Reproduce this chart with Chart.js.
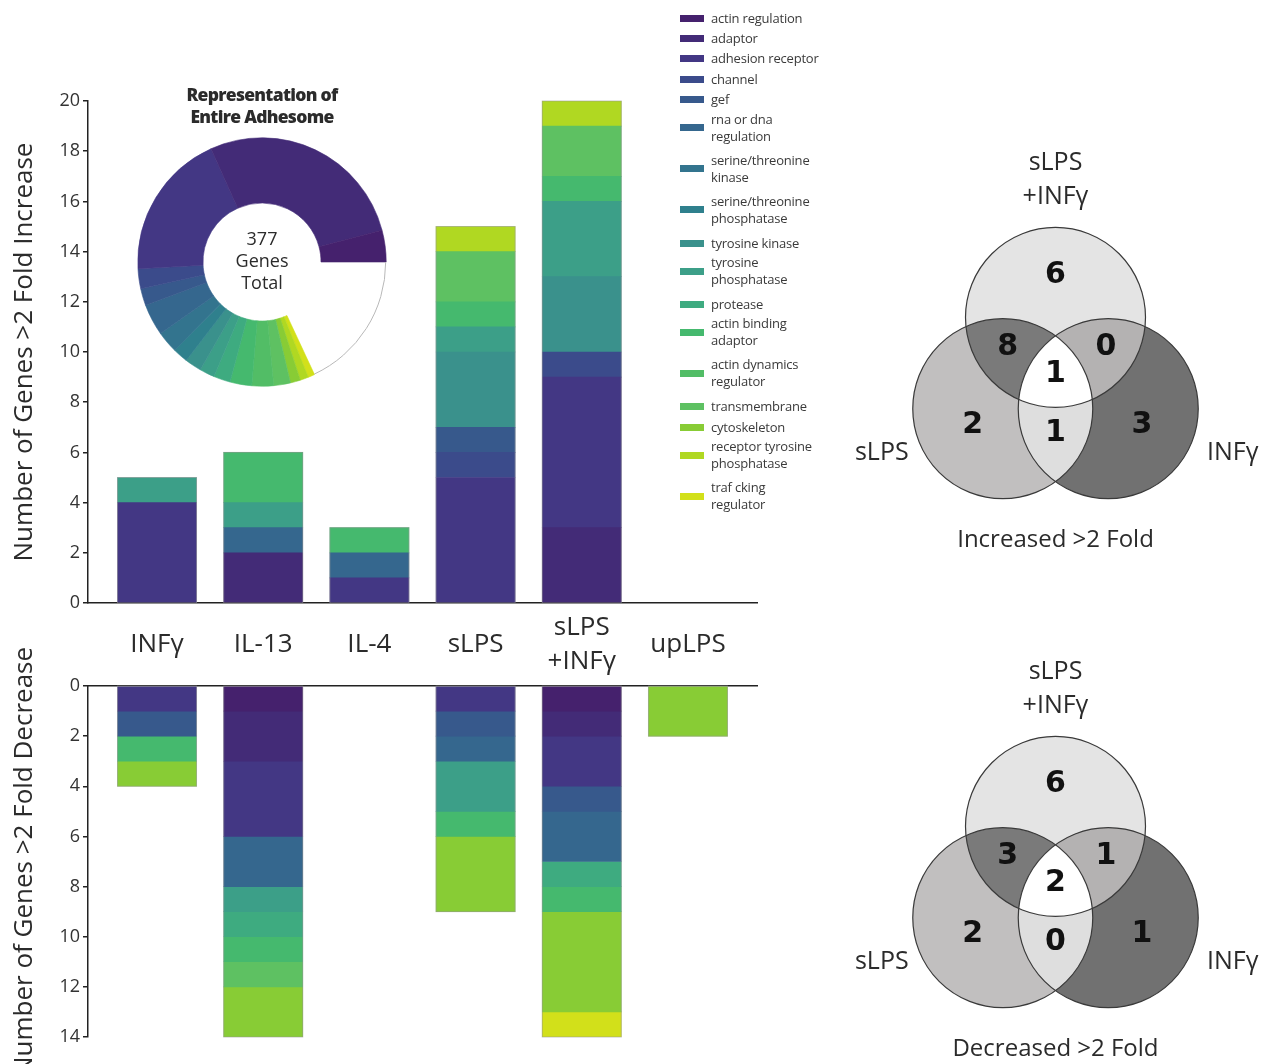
<!DOCTYPE html>
<html>
<head>
<meta charset="utf-8">
<script src="https://cdn.jsdelivr.net/npm/chart.js@4.4.1/dist/chart.umd.min.js"></script>
<style>
  html, body { margin: 0; padding: 0; background: #fff; overflow: hidden; }
  body { width: 1271px; height: 1064px; position: relative; font-family: 'Open Sans', sans-serif; }
  canvas { position: absolute; }
  #legend { position: absolute; left: 680px; top: 8px; color: #3a3a3a; font-size: 13px; }
  .item { display: flex; align-items: center; }
  .swatch { width: 24px; height: 7px; margin-right: 7px; flex: none; }
  .txt { line-height: 17px; white-space: pre; letter-spacing: -0.2px; }
</style>
</head>
<body>
<canvas id="up" width="770" height="676" style="left:0;top:0"></canvas>
<canvas id="down" width="770" height="428" style="left:0;top:636px"></canvas>
<canvas id="donut" width="264" height="312" style="left:130px;top:78px"></canvas>
<canvas id="vennUp" width="431" height="420" style="left:840px;top:140px"></canvas>
<canvas id="vennDown" width="431" height="420" style="left:840px;top:649px"></canvas>
<div id="legend"></div>
<script>
// treatments along the x axis
const conditions = ['INFγ', 'IL-13', 'IL-4', 'sLPS', 'sLPS\n+INFγ', 'upLPS'];

// adhesome functional categories (legend order, bottom of the stack first)
const categories = [
    'actin regulation', 'adaptor', 'adhesion receptor', 'channel', 'gef',
    'rna or dna\nregulation', 'serine/threonine\nkinase', 'serine/threonine\nphosphatase',
    'tyrosine kinase', 'tyrosine\nphosphatase', 'protease', 'actin binding\nadaptor',
    'actin dynamics\nregulator', 'transmembrane', 'cytoskeleton',
    'receptor tyrosine\nphosphatase', 'traf cking\nregulator'
];
const colors = [
    '#45216d', '#432b77', '#433784', '#3b4b8b', '#37598c',
    '#35678e', '#33748e', '#2f808d', '#3a918c', '#3c9f88',
    '#3eab80', '#45b96e', '#52bd66', '#5ec162', '#88cc35',
    '#b0d822', '#d2e01a'
];

// genes >2 fold increased, one row per category, columns follow conditions
const increased = [
    [0, 0, 0, 0, 0, 0],
    [0, 2, 0, 0, 3, 0],
    [4, 0, 1, 5, 6, 0],
    [0, 0, 0, 1, 1, 0],
    [0, 0, 0, 1, 0, 0],
    [0, 1, 1, 0, 0, 0],
    [0, 0, 0, 0, 0, 0],
    [0, 0, 0, 0, 0, 0],
    [0, 0, 0, 3, 3, 0],
    [1, 1, 0, 1, 3, 0],
    [0, 0, 0, 0, 0, 0],
    [0, 2, 1, 1, 1, 0],
    [0, 0, 0, 0, 0, 0],
    [0, 0, 0, 2, 2, 0],
    [0, 0, 0, 0, 0, 0],
    [0, 0, 0, 1, 1, 0],
    [0, 0, 0, 0, 0, 0]
];
// genes >2 fold decreased
const decreased = [
    [0, 1, 0, 0, 1, 0],
    [0, 2, 0, 0, 1, 0],
    [1, 3, 0, 1, 2, 0],
    [0, 0, 0, 0, 0, 0],
    [1, 0, 0, 1, 1, 0],
    [0, 2, 0, 1, 2, 0],
    [0, 0, 0, 0, 0, 0],
    [0, 0, 0, 0, 0, 0],
    [0, 0, 0, 0, 0, 0],
    [0, 1, 0, 2, 0, 0],
    [0, 1, 0, 0, 1, 0],
    [1, 1, 0, 1, 1, 0],
    [0, 0, 0, 0, 0, 0],
    [0, 1, 0, 0, 0, 0],
    [1, 2, 0, 3, 4, 2],
    [0, 0, 0, 0, 0, 0],
    [0, 0, 0, 0, 1, 0]
];

// whole adhesome, genes per category (377 total)
const adhesomeTotals = [19, 127, 88, 12, 10, 19, 13, 9, 10, 9, 10, 13, 13, 10, 6, 5, 4];

// venn diagrams: regions are top, left, right, top+left, top+right, left+right, all three
const vennSets = ['sLPS\n+INFγ', 'sLPS', 'INFγ'];
const increasedOverlap = [6, 2, 3, 8, 0, 1, 1];
const decreasedOverlap = [6, 2, 1, 3, 1, 0, 2];
const regionFill = ['#e4e4e4', '#c1bfbf', '#717171', '#7a7a7a', '#b4b2b2', '#dedede', '#ffffff'];

Chart.defaults.font.family = "'Open Sans', sans-serif";
Chart.defaults.color = '#333';

const condLabels = {
    id: 'condLabels',
    afterDraw(chart) {
        const ctx = chart.ctx;
        const xs = chart.scales.x;
        const base = chart.chartArea.bottom + 42;
        ctx.save();
        ctx.font = "26px 'Open Sans'";
        ctx.fillStyle = '#2b2b2b';
        ctx.textAlign = 'center';
        ctx.textBaseline = 'middle';
        conditions.forEach((c, i) => {
            const lines = c.split('\n');
            const px = xs.getPixelForValue(i);
            lines.forEach((l, j) => ctx.fillText(l, px, base + (j - (lines.length - 1) / 2) * 34));
        });
        ctx.restore();
    }
};

// faint grey edge round each whole stack
const stackEdge = {
    id: 'stackEdge',
    afterDatasetsDraw(chart) {
        const ctx = chart.ctx;
        const {x: xs, y: ys} = chart.scales;
        const half = 39.5;
        ctx.save();
        ctx.strokeStyle = 'rgba(150,150,150,0.55)';
        ctx.lineWidth = 1;
        conditions.forEach((c, i) => {
            const total = chart.data.datasets.reduce((acc, ds) => acc + (ds.data[i].y || 0), 0);
            if (!total) return;
            const px = xs.getPixelForValue(i);
            const y0 = ys.getPixelForValue(0);
            const y1 = ys.getPixelForValue(total);
            ctx.strokeRect(px - half, Math.min(y0, y1), half * 2, Math.abs(y1 - y0));
        });
        ctx.restore();
    }
};

function barChart(id, rows, reverse, max, title, pad, extra) {
    return new Chart(document.getElementById(id), {
        type: 'bar',
        data: {
            datasets: categories.map((name, k) => ({
                label: name.replace('\n', ' '),
                // empty categories are left out of the stack
                data: rows[k].map((v, i) => ({x: i, y: v === 0 ? null : v})),
                backgroundColor: colors[k],
                borderWidth: 0,
                barThickness: 79
            }))
        },
        options: {
            responsive: false,
            animation: false,
            layout: {padding: pad},
            plugins: {legend: {display: false}, tooltip: {enabled: false}},
            scales: {
                x: {
                    type: 'linear', min: -0.65, max: 5.65, stacked: true, offset: false,
                    position: reverse ? 'top' : 'bottom',
                    afterFit: s => { s.height = 0; },
                    ticks: {display: false},
                    grid: {display: false},
                    border: {color: '#222', width: 1.5}
                },
                y: {
                    min: 0, max: max, reverse: reverse, stacked: true,
                    afterFit: s => { s.width = 88; },
                    ticks: {stepSize: 2, color: '#333', font: {size: 18}, padding: 3},
                    grid: {drawOnChartArea: false, tickLength: 5, color: '#222', lineWidth: 1.5},
                    border: {color: '#222', width: 1.5},
                    title: {display: true, text: title, color: '#2b2b2b', font: {size: 26}, padding: {top: 9, bottom: 0}}
                }
            }
        },
        plugins: [stackEdge].concat(extra)
    });
}

barChart('up', increased, false, 20, 'Number of Genes >2 Fold Increase',
    {top: 101, bottom: 73, left: 0, right: 13}, [condLabels]);
barChart('down', decreased, true, 14, 'Number of Genes >2 Fold Decrease',
    {top: 50, bottom: 27, left: 0, right: 13}, []);

// inset doughnut of the whole adhesome
const donutText = {
    id: 'donutText',
    afterDraw(chart) {
        const arcs = chart.getDatasetMeta(0).data;
        const {x, y, outerRadius} = arcs[0];
        const ctx = chart.ctx;
        ctx.save();
        // faint outline over the open part of the ring
        ctx.beginPath();
        ctx.arc(x, y, outerRadius - 0.5, arcs[arcs.length - 1].endAngle, arcs[0].startAngle + Math.PI * 2);
        ctx.strokeStyle = '#b8b8b8';
        ctx.lineWidth = 1;
        ctx.stroke();
        ctx.textAlign = 'center';
        ctx.textBaseline = 'middle';
        ctx.fillStyle = '#2b2b2b';
        ctx.font = "800 17.5px 'Open Sans'";
        ctx.letterSpacing = '-0.7px';
        ctx.fillText('Representation of', x, y - outerRadius - 42);
        ctx.fillText('Entire Adhesome', x, y - outerRadius - 20);
        ctx.letterSpacing = '0px';
        ctx.font = "18px 'Open Sans'";
        ['377', 'Genes', 'Total'].forEach((t, i) => ctx.fillText(t, x, y + (i - 1) * 22));
        ctx.restore();
    }
};
new Chart(document.getElementById('donut'), {
    type: 'doughnut',
    data: {
        labels: categories.slice().reverse(),
        datasets: [{
            data: adhesomeTotals.slice().reverse(),
            backgroundColor: colors.slice().reverse(),
            borderColor: colors.slice().reverse(),
            borderWidth: 0.6,
            rotation: 155,
            circumference: 295
        }]
    },
    options: {
        responsive: false,
        animation: false,
        cutout: '47.5%',
        layout: {padding: {top: 59.5, bottom: 3.5}},
        plugins: {legend: {display: false}, tooltip: {enabled: false}}
    },
    plugins: [donutText]
});

// legend built from the same category list
const legend = document.getElementById('legend');
categories.forEach((name, k) => {
    const lines = name.split('\n').length;
    const item = document.createElement('div');
    item.className = 'item';
    item.style.height = lines === 1 ? '20.4px' : '35.5px';
    item.style.marginBottom = lines === 1 ? '0' : '5.5px';
    const sw = document.createElement('span');
    sw.className = 'swatch';
    sw.style.background = colors[k];
    const tx = document.createElement('span');
    tx.className = 'txt';
    tx.textContent = name;
    item.appendChild(sw);
    item.appendChild(tx);
    legend.appendChild(item);
});

// venn layout in circle radius units, origin at the centre of the three circles
const vennGeom = {
    centers: [[0, 0.677], [-0.586, -0.338], [0.586, -0.338]],
    spots: [[0, 1.15], [-0.92, -0.52], [0.96, -0.52], [-0.53, 0.34], [0.56, 0.34], [0, -0.61], [0, 0.04]],
    names: [[0, 2.2], [-1.93, -0.83], [1.97, -0.83]],
    caption: [0, -1.8]
};

const vennPlugin = {
    id: 'venn',
    beforeDatasetsDraw(chart) {
        const {ctx, scales: {x, y}} = chart;
        const r = x.getPixelForValue(1) - x.getPixelForValue(0);
        const c = vennGeom.centers.map(p => [x.getPixelForValue(p[0]), y.getPixelForValue(p[1])]);
        const circle = i => { ctx.beginPath(); ctx.arc(c[i][0], c[i][1], r, 0, Math.PI * 2); };
        ctx.save();
        [0, 1, 2].forEach(i => { circle(i); ctx.fillStyle = regionFill[i]; ctx.fill(); });
        [[0, 1, 3], [0, 2, 4], [1, 2, 5]].forEach(([a, b, k]) => {
            ctx.save(); circle(a); ctx.clip(); circle(b); ctx.fillStyle = regionFill[k]; ctx.fill(); ctx.restore();
        });
        ctx.save();
        circle(0); ctx.clip(); circle(1); ctx.clip(); circle(2);
        ctx.fillStyle = regionFill[6]; ctx.fill();
        ctx.restore();
        ctx.strokeStyle = '#3a3a3a';
        ctx.lineWidth = 1.2;
        [0, 1, 2].forEach(i => { circle(i); ctx.stroke(); });
        ctx.restore();
    },
    afterDatasetsDraw(chart) {
        const {ctx, scales: {x, y}} = chart;
        const pts = chart.getDatasetMeta(0).data;
        const counts = chart.data.datasets[0].counts;
        ctx.save();
        ctx.textAlign = 'center';
        ctx.textBaseline = 'middle';
        ctx.fillStyle = '#111';
        ctx.font = "bold 30px 'DejaVu Sans'";
        pts.forEach((p, i) => ctx.fillText(String(counts[i]), p.x, p.y));
        ctx.fillStyle = '#2b2b2b';
        ctx.font = "25px 'Open Sans'";
        vennSets.forEach((s, i) => {
            const lines = s.split('\n');
            const px = x.getPixelForValue(vennGeom.names[i][0]);
            const py = y.getPixelForValue(vennGeom.names[i][1]);
            lines.forEach((l, j) => ctx.fillText(l, px, py + (j - (lines.length - 1) / 2) * 34));
        });
        ctx.font = "24px 'Open Sans'";
        ctx.fillText(chart.data.datasets[0].caption,
            x.getPixelForValue(vennGeom.caption[0]), y.getPixelForValue(vennGeom.caption[1]));
        ctx.restore();
    }
};

function vennChart(id, counts, caption) {
    return new Chart(document.getElementById(id), {
        type: 'scatter',
        data: {
            datasets: [{
                data: vennGeom.spots.map(p => ({x: p[0], y: p[1]})),
                counts: counts,
                caption: caption,
                pointRadius: 0
            }]
        },
        options: {
            responsive: false,
            animation: false,
            layout: {padding: 0},
            plugins: {legend: {display: false}, tooltip: {enabled: false}},
            scales: {
                x: {type: 'linear', min: -215.5 / 90, max: 215.5 / 90, display: false},
                y: {type: 'linear', min: -181.7 / 90, max: 238.3 / 90, display: false}
            }
        },
        plugins: [vennPlugin]
    });
}

vennChart('vennUp', increasedOverlap, 'Increased >2 Fold');
vennChart('vennDown', decreasedOverlap, 'Decreased >2 Fold');
</script>
</body>
</html>
